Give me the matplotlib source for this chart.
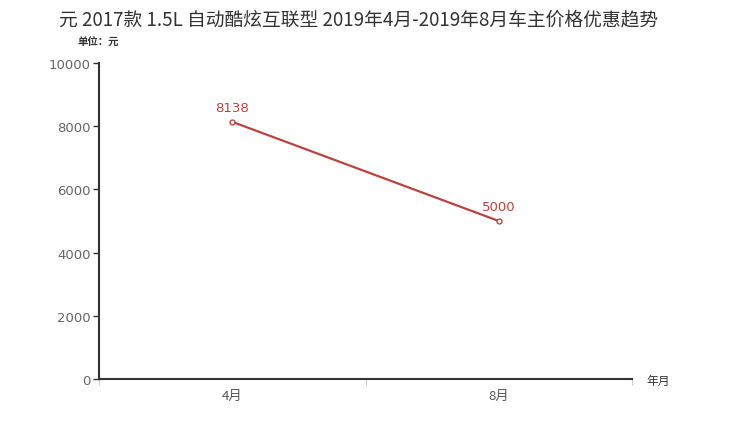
import matplotlib
matplotlib.use("Agg")
import matplotlib.pyplot as plt

plt.rcParams['font.family'] = ['Noto Sans CJK SC', 'DejaVu Sans']

categories = ["4月", "8月"]
values = [8138, 5000]
yticks = [0, 2000, 4000, 6000, 8000, 10000]
title = "元 2017款 1.5L 自动酷炫互联型 2019年4月-2019年8月车主价格优惠趋势"

fig = plt.figure(figsize=(7.33, 4.39), dpi=100)
ax = fig.add_axes([99/733, 1-380/439, 533/733, 316/439])

line_color = "#b8443f"
xs = list(range(len(categories)))
ax.plot(xs, values, color=line_color, lw=1.6, marker="o", ms=3.5,
        mfc="white", mec=line_color, mew=1, zorder=3)
for x, v in zip(xs, values):
    ax.annotate(str(v), (x, v), xytext=(0, 6), textcoords="offset points",
                ha="center", va="bottom", color=line_color, fontsize=9.5,
                family="DejaVu Sans")

ax.set_xlim(-0.5, len(categories) - 0.5)
ax.set_ylim(0, 10000)
ax.set_yticks(yticks)
ax.set_yticklabels([str(t) for t in yticks], family="DejaVu Sans")
ax.tick_params(axis="y", colors="#333333", labelcolor="#666666", labelsize=9.5,
               length=4, width=1, direction="out", pad=2)

ax.set_xticks([i - 0.5 for i in range(len(categories) + 1)])
ax.set_xticks(xs, minor=True)
ax.set_xticklabels([], minor=False)
ax.set_xticklabels(categories, minor=True)
ax.tick_params(axis="x", which="major", length=4, color="#cccccc", width=0.8)
ax.tick_params(axis="x", which="minor", length=0, labelcolor="#555555",
               labelsize=9.5, pad=7)

for s in ["top", "right"]:
    ax.spines[s].set_visible(False)
for s in ["left", "bottom"]:
    ax.spines[s].set_color("#333333")
    ax.spines[s].set_linewidth(1.5)

fig.text(359/733, 1-20/439, title, ha="center", va="center",
         fontsize=13.5, color="#333333")
fig.text(98/733, 1-43/439, "单位：元", ha="center", va="center",
         fontsize=7.5, color="#333333", fontweight="bold")
fig.text(658/733, 1-381/439, "年月", ha="center", va="center",
         fontsize=8.5, color="#333333")

fig.savefig("out.png", dpi=100, facecolor="white")
